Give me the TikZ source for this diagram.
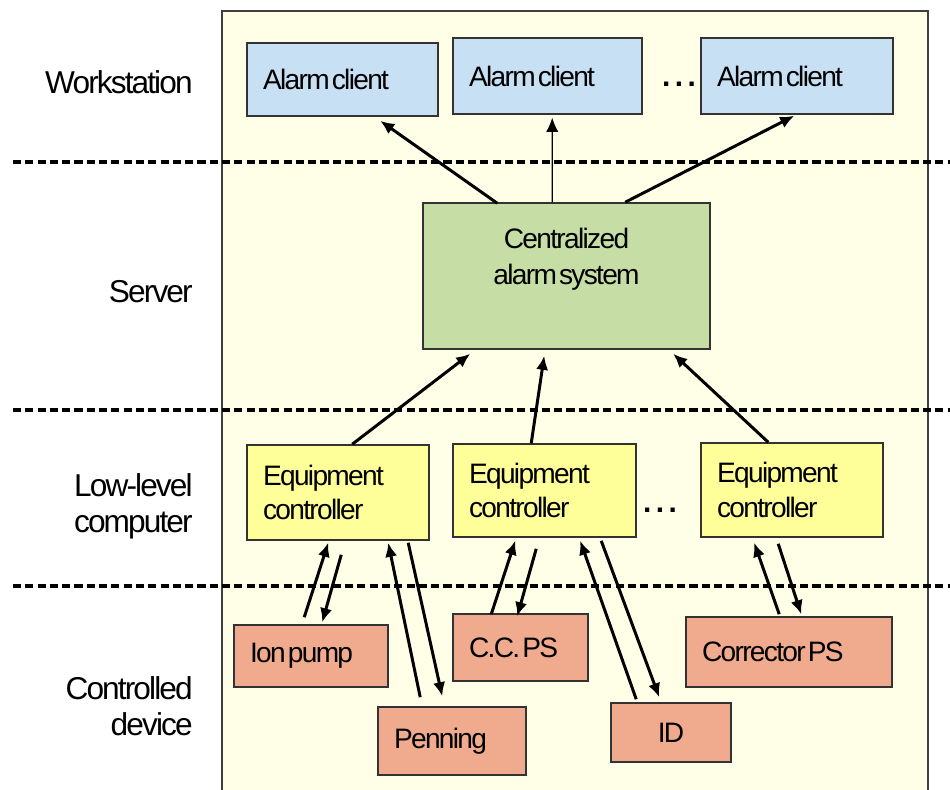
\documentclass[tikz,border=0pt]{standalone}
\usepackage{fontspec}
\setmainfont{Liberation Sans}[LetterSpace=-6, WordSpace=0.35]
\usetikzlibrary{arrows.meta,calc}

\definecolor{panelbg}{RGB}{255,255,232}
\definecolor{clientblue}{RGB}{200,224,243}
\definecolor{servergreen}{RGB}{198,222,165}
\definecolor{ctrlyellow}{RGB}{255,255,153}
\definecolor{devsalmon}{RGB}{240,170,142}

\tikzset{
  layerline/.style={line width=2pt, dash pattern=on 4.6pt off 2.4pt},
  levellabel/.style={anchor=east, align=right, inner sep=0pt, font=\fontsize{18}{20.5}\selectfont},
  unit/.style={draw=black!80, line width=0.9pt, inner xsep=0.32cm, inner ysep=0pt,
    align=flush left, font=\fontsize{16}{19.8}\selectfont},
  client/.style={unit, fill=clientblue},
  server/.style={unit, fill=servergreen},
  controller/.style={unit, fill=ctrlyellow},
  device/.style={unit, fill=devsalmon},
  more/.style={font=\fontsize{17}{18}\selectfont\bfseries},
  flow/.style={line width=1.7pt, -{Latex[length=8pt,width=7pt]}},
}

\begin{document}
\begin{tikzpicture}[x=0.02cm,y=-0.02cm]

\clip (0,0) rectangle (950,789);
\fill[white] (0,0) rectangle (950,789);
\draw[draw=black!75, line width=0.7pt, fill=panelbg] (222,11) rectangle (928,800);

\foreach \y in {162, 410, 586}
  \draw[layerline] (13,\y) -- (950,\y);

% level names
\node[levellabel] (ws)   at (193,82)  {Workstation};
\node[levellabel] (srv)  at (193,292) {Server};
\node[levellabel] (llc)  at (193,506) {Low-level\\computer};
\node[levellabel] (cdev) at (193,706) {Controlled\\device};

% workstation
\node[client, text width=3.18cm, minimum height=1.46cm] (ac1) at (342.5,79.5) {Alarm client};
\node[client, text width=3.14cm, minimum height=1.52cm] (ac2) at (547.5,76) {Alarm client};
\node[client, text width=3.20cm, minimum height=1.52cm] (ac3) at (797,76) {Alarm client};
\node[more] (moreac) at (679,84) {. . .};

% server
\node[server, minimum width=5.74cm, minimum height=2.92cm,
  label={[anchor=north, align=center, inner sep=0pt, yshift=-0.52cm,
  font=\fontsize{16}{20}\selectfont]north:Centralized\\alarm system}] (cas) at (566.5,276) {};

% low-level computer
\node[controller, text width=3.00cm, minimum height=1.90cm] (ec1) at (338,492.5) {Equipment\\controller};
\node[controller, text width=3.02cm, minimum height=1.86cm] (ec2) at (544.5,490.5) {Equipment\\controller};
\node[controller, text width=3.00cm, minimum height=1.88cm] (ec3) at (792,490) {Equipment\\controller};
\node[more] (moreec) at (660,510) {. . .};

% controlled devices
\node[device, text width=2.44cm, minimum height=1.24cm] (ion)  at (311,656)     {Ion pump};
\node[device, text width=2.32cm, minimum height=1.36cm] (pen)  at (452,741)     {Penning};
\node[device, text width=2.06cm, minimum height=1.34cm] (ccps) at (520.5,647.5) {C.C. PS};
\node[device, text width=1.76cm, minimum height=1.18cm, align=flush center] (id) at (671,732.5) {ID};
\node[device, text width=3.48cm, minimum height=1.40cm] (cor)  at (789,652)     {Corrector PS};

% server -> clients
\draw[flow] ($(cas.north west)+(75,1)$) -- ($(ac1.south west)+(134,4)$);
\draw[flow, line width=0.7pt] ($(cas.north west)+(130,0)$) -- ($(ac2.south west)+(100,3)$);
\draw[flow] ($(cas.north west)+(203,0)$) -- ($(ac3.south west)+(94,1)$);

% controllers -> server
\draw[flow] ($(ec1.north west)+(106,0)$) -- ($(cas.south west)+(48,4)$);
\draw[flow] ($(ec2.north west)+(79,0)$)  -- ($(cas.south west)+(122,6)$);
\draw[flow] ($(ec3.north west)+(68,0)$)  -- ($(cas.south west)+(251,4)$);

% devices <-> controllers
\draw[flow] ($(ion.north west)+(71,-7)$) -- ($(ec1.south west)+(82,2)$);
\draw[flow] ($(ec1.south west)+(95,14)$) -- ($(ion.north west)+(89,-2)$);
\draw[flow] ($(pen.north west)+(43,-9)$) -- ($(ec1.south west)+(142,2)$);
\draw[flow] ($(ec1.south west)+(162,2)$) -- ($(pen.north west)+(65,-10)$);

\draw[flow] ($(ccps.north west)+(39,1)$) -- ($(ec2.south west)+(63,3)$);
\draw[flow] ($(ec2.south west)+(84,11)$) -- ($(ccps.north west)+(65,3)$);
\draw[flow] ($(id.north west)+(26,-3)$)  -- ($(ec2.south west)+(128,3)$);
\draw[flow] ($(ec2.south west)+(149,3)$) -- ($(id.north west)+(49,-5)$);

\draw[flow] ($(cor.north west)+(94,-2)$) -- ($(ec3.south west)+(54,5)$);
\draw[flow] ($(ec3.south west)+(78,6)$)  -- ($(cor.north west)+(116,-2)$);

\end{tikzpicture}
\end{document}
